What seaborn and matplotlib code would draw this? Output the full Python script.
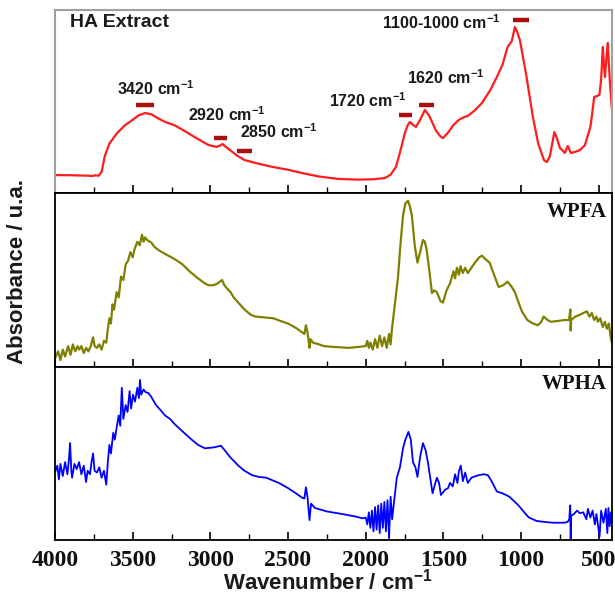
import numpy as np
import pandas as pd
import matplotlib
matplotlib.use("Agg")
import matplotlib.pyplot as plt
from matplotlib.ticker import MultipleLocator
import seaborn as sns

# ---------------- data ----------------
wn_ha = [4000, 3900, 3800, 3760, 3740, 3720, 3700, 3680, 3650, 3600, 3550, 3500, 3460, 3420,
         3380, 3330, 3290, 3230, 3176, 3100, 3012, 2960, 2935, 2922, 2905, 2874, 2830, 2780,
         2700, 2597, 2500, 2410, 2300, 2179, 2050, 1950, 1876, 1840, 1806, 1780, 1748, 1730,
         1716, 1700, 1677, 1650, 1619, 1590, 1550, 1520, 1503, 1470, 1435, 1400, 1367, 1343,
         1300, 1252, 1200, 1156, 1120, 1087, 1060, 1040, 1025, 1008, 970, 924, 890, 853, 834,
         815, 786, 770, 750, 718, 700, 680, 650, 622, 590, 554, 540, 530, 510, 496, 485, 474,
         467, 460, 450, 442, 435, 428, 416]
ab_ha = [.098, .097, .095, .093, .097, .094, .115, .20, .27, .328, .37, .40, .425, .437,
         .43, .405, .388, .37, .344, .305, .262, .252, .26, .268, .255, .235, .205, .18,
         .162, .142, .127, .109, .09, .077, .073, .075, .082, .10, .142, .22, .328, .37,
         .388, .375, .361, .40, .454, .42, .344, .31, .30, .33, .372, .40, .415, .421,
         .45, .492, .56, .634, .70, .798, .83, .907, .88, .836, .66, .415, .27, .18, .169,
         .20, .333, .30, .246, .219, .257, .219, .225, .235, .26, .361, .45, .525, .53, .536, .62, .798,
         .70, .634, .75, .82, .70, .60, .46]

wn_wpfa = [4000, 3980, 3965, 3950, 3935, 3916, 3900, 3885, 3870, 3855, 3845, 3830, 3815, 3800,
           3785, 3770, 3755, 3745, 3730, 3715, 3700, 3685, 3670, 3660, 3650, 3640, 3630, 3620,
           3603, 3590, 3575, 3560, 3545, 3530, 3515, 3500, 3487, 3470, 3455, 3440, 3430, 3420,
           3408, 3380, 3360, 3330, 3292, 3250, 3221, 3180, 3128, 3080, 3035, 3012, 2980, 2954,
           2925, 2910, 2896, 2870, 2850, 2820, 2780, 2740, 2710, 2650, 2595, 2550, 2500, 2450,
           2410, 2395, 2385, 2375, 2362, 2355, 2340, 2300, 2270, 2200, 2108, 2050, 2000, 1990,
           1980, 1970, 1955, 1940, 1925, 1910, 1895, 1880, 1865, 1850, 1840, 1831, 1810, 1793,
           1775, 1760, 1745, 1728, 1715, 1703, 1685, 1667, 1650, 1632, 1620, 1609, 1590, 1574,
           1560, 1542, 1520, 1503, 1480, 1458, 1445, 1435, 1425, 1413, 1400, 1390, 1375, 1360,
           1343, 1320, 1297, 1270, 1252, 1230, 1203, 1170, 1145, 1115, 1087, 1060, 1040, 1020,
           995, 960, 924, 892, 870, 855, 830, 808, 760, 720, 692, 683, 681, 678, 650, 622, 600,
           577, 560, 545, 530, 515, 506, 490, 475, 460, 448, 435, 425, 416]
ab_wpfa = [.05, .09, .04, .10, .06, .12, .07, .13, .09, .12, .10, .12, .08, .11,
           .09, .12, .17, .12, .11, .13, .10, .15, .14, .22, .28, .25, .36, .33,
           .43, .40, .52, .50, .59, .61, .66, .63, .68, .72, .70, .76, .72, .745,
           .73, .715, .69, .67, .65, .63, .615, .59, .545, .51, .48, .47, .47, .48,
           .50, .47, .455, .43, .40, .37, .33, .30, .29, .285, .28, .265, .25, .225,
           .20, .19, .24, .20, .11, .16, .14, .13, .12, .115, .11, .115, .12, .15,
           .11, .14, .10, .16, .11, .18, .12, .17, .11, .19, .13, .22, .38, .51,
           .72, .87, .94, .955, .92, .87, .70, .60, .66, .73, .72, .68, .55, .425,
           .44, .43, .38, .37, .44, .48, .52, .55, .51, .57, .53, .58, .54, .57,
           .54, .57, .60, .63, .64, .62, .60, .52, .46, .47, .49, .46, .43, .38,
           .32, .27, .25, .24, .26, .29, .27, .26, .265, .27, .27, .33, .21, .27, .29, .30, .31,
           .32, .29, .31, .27, .29, .26, .28, .23, .26, .22, .25, .18, .14]

wn_wpha = [4000, 3985, 3975, 3965, 3950, 3935, 3920, 3910, 3903, 3895, 3890, 3875, 3860, 3845,
           3830, 3815, 3800, 3790, 3775, 3765, 3755, 3745, 3730, 3715, 3700, 3685, 3670, 3660,
           3650, 3640, 3625, 3615, 3603, 3590, 3580, 3570, 3560, 3545, 3533, 3520, 3510, 3498,
           3485, 3470, 3460, 3453, 3445, 3430, 3418, 3400, 3382, 3350, 3320, 3292, 3260, 3230,
           3176, 3120, 3080, 3035, 2980, 2932, 2900, 2874, 2820, 2780, 2732, 2690, 2640, 2560,
           2500, 2450, 2410, 2395, 2385, 2375, 2362, 2352, 2327, 2250, 2150, 2063, 2020, 2000,
           1990, 1980, 1970, 1960, 1950, 1940, 1930, 1920, 1910, 1900, 1890, 1880, 1870, 1860,
           1850, 1840, 1830, 1818, 1800, 1780, 1760, 1745, 1725, 1710, 1696, 1680, 1667, 1650,
           1632, 1615, 1600, 1585, 1570, 1555, 1542, 1528, 1516, 1490, 1470, 1458, 1440, 1425,
           1410, 1400, 1388, 1375, 1360, 1343, 1320, 1290, 1272, 1240, 1214, 1190, 1156, 1120,
           1075, 1040, 1017, 980, 950, 900, 855, 800, 760, 718, 700, 690, 684, 681, 678, 660,
           640, 622, 600, 580, 570, 554, 540, 525, 515, 506, 495, 485, 470, 455, 445, 438, 430,
           422, 416]
ab_wpha = [.39, .43, .35, .44, .37, .45, .38, .47, .56, .40, .36, .44, .41, .45,
           .38, .43, .335, .40, .38, .45, .50, .40, .39, .42, .36, .40, .32, .45,
           .55, .50, .62, .58, .65, .72, .66, .88, .70, .78, .74, .86, .76, .84,
           .80, .88, .82, .925, .84, .87, .855, .85, .83, .78, .75, .72, .70, .67,
           .625, .58, .55, .53, .535, .545, .51, .48, .43, .40, .375, .365, .36, .33,
           .30, .27, .245, .24, .305, .25, .115, .21, .185, .165, .15, .135, .125, .13,
           .09, .16, .07, .17, .05, .19, .06, .20, .04, .21, .07, .22, .05, .23,
           .01, .25, .12, .22, .36, .42, .53, .58, .625, .58, .45, .42, .365, .48,
           .56, .52, .45, .36, .27, .32, .36, .33, .26, .29, .30, .33, .31, .38,
           .33, .40, .43, .34, .39, .33, .36, .37, .375, .38, .375, .34, .28, .27,
           .25, .22, .20, .16, .13, .11, .105, .10, .10, .10, .105, .12, .20, .0, .14, .15,
           .17, .155, .16, .12, .18, .13, .17, .09, .15, .09, .02, .17, .10, .18, .04, .185, .08,
           .16, .10]

# peak annotations (HA extract)
peak_labels = ["3420 cm$^{-1}$", "2920 cm$^{-1}$", "2850 cm$^{-1}$",
               "1720 cm$^{-1}$", "1620 cm$^{-1}$", "1100-1000 cm$^{-1}$"]
peak_bar_lo = [3476, 2977, 2829, 1783, 1658, 1053]
peak_bar_hi = [3360, 2896, 2732, 1703, 1561, 950]
peak_bar_lvl = [.481, .30, .23, .426, .481, .945]
label_wn = [3350, 2893, 2559, 1986, 1484, 1516]
label_lvl = [.568, .43, .333, .503, .628, .93]

xticks = [4000, 3500, 3000, 2500, 2000, 1500, 1000, 500]

# ---------------- style ----------------
sns.set_theme(style="white")
plt.rcParams['font.family'] = ['Liberation Sans', 'DejaVu Sans']
plt.rcParams['font.weight'] = 'bold'
plt.rcParams['mathtext.fontset'] = 'custom'
plt.rcParams['mathtext.rm'] = 'Liberation Sans:bold'
plt.rcParams['mathtext.bf'] = 'Liberation Sans:bold'
plt.rcParams['mathtext.default'] = 'bf'

fig = plt.figure(figsize=(6.15, 5.98), dpi=100)
W, H = 615, 598
left, right = 55, 612
rows = [(10, 193), (193, 367), (367, 540)]
axes = []
for top, bot in rows:
    ax = fig.add_axes([left / W, 1 - bot / H, (right - left) / W, (bot - top) / H])
    axes.append(ax)

series = [
    (wn_ha, ab_ha, "#ff1c1c", 1.6),
    (wn_wpfa, ab_wpfa, "#7f7f00", 1.6),
    (wn_wpha, ab_wpha, "#0000ff", 1.3),
]
for ax, (wn, ab, col, lw) in zip(axes, series):
    df = pd.DataFrame({"wn": wn, "ab": ab})
    sns.lineplot(data=df, x="wn", y="ab", ax=ax, color=col, linewidth=lw,
                 estimator=None, sort=False)
    ax.set_xlim(4000, 415)
    ax.set_ylim(0, 1)
    ax.set_xlabel("")
    ax.set_ylabel("")
    ax.set_yticks([])
    ax.xaxis.set_major_locator(MultipleLocator(500))
    ax.xaxis.set_minor_locator(MultipleLocator(250))
    ax.tick_params(axis='x', which='both', direction='in', bottom=True, top=False,
                   colors='black')
    ax.tick_params(axis='x', which='major', length=6, width=1.2)
    ax.tick_params(axis='x', which='minor', length=4, width=1.0)
    for s in ax.spines.values():
        s.set_color('black')
        s.set_linewidth(1.3)

for ax in axes[:2]:
    ax.tick_params(axis='x', which='both', labelbottom=False)

# top panel light frame
for side in ['top', 'left', 'right']:
    axes[0].spines[side].set_color('#a0a0a0')
    axes[0].spines[side].set_linewidth(1.5)

axes[2].tick_params(axis='x', which='major', pad=7, labelsize=17,
                    labelfontfamily='Liberation Serif', labelcolor='#111111')

# annotations in top panel
ax0 = axes[0]
ax0.hlines(peak_bar_lvl, peak_bar_lo, peak_bar_hi, colors='#a80f0f', linewidth=3.2)
for lab, x, y in zip(peak_labels, label_wn, label_lvl):
    ax0.text(x, y, lab, ha='center', va='center', fontsize=11.5, fontweight='bold',
             color='#1a1a1a')
ax0.text(0.027, 0.93, "HA Extract", transform=ax0.transAxes, ha='left', va='center',
         fontsize=14, fontweight='bold', color='#1a1a1a')

axes[1].text(0.99, 0.89, "WPFA", transform=axes[1].transAxes, ha='right', va='center',
             fontsize=15, fontweight='bold', fontfamily='Liberation Serif', color='#111111')
axes[2].text(0.99, 0.9, "WPHA", transform=axes[2].transAxes, ha='right', va='center',
             fontsize=15, fontweight='bold', fontfamily='Liberation Serif', color='#111111')

fig.text(18 / W, 1 - 272 / H, "Absorbance / u.a.", rotation=90, ha='center', va='center',
         fontsize=16, fontweight='bold', color='#1a1a1a')
fig.text(328 / W, 1 - 582 / H, "Wavenumber / cm$^{-1}$", ha='center', va='center',
         fontsize=16, fontweight='bold', color='#1a1a1a')

fig.savefig("out.png", dpi=100)
